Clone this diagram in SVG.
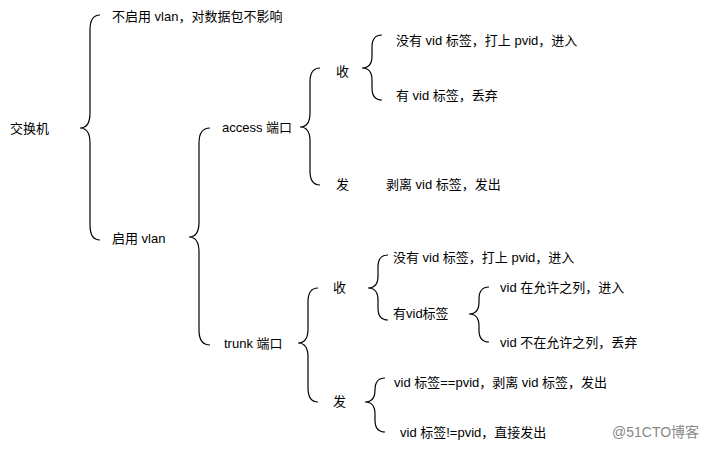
<svg xmlns="http://www.w3.org/2000/svg" width="721" height="449" viewBox="0 0 721 449">
<style>
text{font-family:"Liberation Sans","Noto Sans CJK SC",sans-serif;font-size:13px;fill:#000}
.b{fill:none;stroke:#000;stroke-width:1.2}
</style>
<rect width="721" height="449" fill="#fff"/>
<g id="connectors">
<path class="b" d="M100,15 Q90,15 90,30 L90,113 Q90,128 80,128 Q90,128 90,143 L90,225 Q90,240 100,240"/>
<path class="b" d="M210,128 Q199,128 199,143 L199,222 Q199,237 189,237 Q199,237 199,252 L199,330 Q199,345 210,345"/>
<path class="b" d="M320,68 Q310,68 310,82 L310,113 Q310,127 300,127 Q310,127 310,141 L310,171 Q310,185 320,185"/>
<path class="b" d="M382,35 Q372,35 372,47 L372,56 Q372,68 362,68 Q372,68 372,80 L372,88 Q372,100 382,100"/>
<path class="b" d="M318,288 Q308,288 308,302 L308,329 Q308,343 298,343 Q308,343 308,357 L308,388 Q308,402 318,402"/>
<path class="b" d="M388,255 Q378,255 378,267 L378,276 Q378,288 368,288 Q378,288 378,300 L378,308 Q378,320 388,320"/>
<path class="b" d="M489,287 Q479,287 479,299 L479,302 Q479,314 469,314 Q479,314 479,326 L479,330 Q479,342 489,342"/>
<path class="b" d="M385,378 Q375,378 375,390 L375,390 Q375,402 365,402 Q375,402 375,414 L375,420 Q375,432 385,432"/>
</g>
<g id="n-switch"><text x="10" y="133">交换机</text></g>
<g id="n-novlan"><text x="112" y="21">不启用 vlan，对数据包不影响</text></g>
<g id="n-vlan"><text x="112" y="243">启用 vlan</text></g>
<g id="n-access"><text x="222" y="132">access 端口</text></g>
<g id="n-trunk"><text x="224" y="348">trunk 端口</text></g>
<g id="n-a-recv"><text x="336" y="76">收</text></g>
<g id="n-a-send"><text x="336" y="189">发</text></g>
<g id="n-a-r1"><text x="396" y="45">没有 vid 标签，打上 pvid，进入</text></g>
<g id="n-a-r2"><text x="396" y="100">有 vid 标签，丢弃</text></g>
<g id="n-a-s1"><text x="386" y="189">剥离 vid 标签，发出</text></g>
<g id="n-t-recv"><text x="333" y="292">收</text></g>
<g id="n-t-send"><text x="333" y="406">发</text></g>
<g id="n-t-r1"><text x="393" y="262">没有 vid 标签，打上 pvid，进入</text></g>
<g id="n-t-r2"><text x="393" y="318">有vid标签</text></g>
<g id="n-t-r2a"><text x="500" y="292">vid 在允许之列，进入</text></g>
<g id="n-t-r2b"><text x="500" y="347">vid 不在允许之列，丢弃</text></g>
<g id="n-t-s1"><text x="394" y="387">vid 标签==pvid，剥离 vid 标签，发出</text></g>
<g id="n-t-s2"><text x="400" y="437">vid 标签!=pvid，直接发出</text></g>
<g id="wm"><text x="612" y="437" style="fill:#888;font-size:14px">@51CTO博客</text></g>
</svg>
